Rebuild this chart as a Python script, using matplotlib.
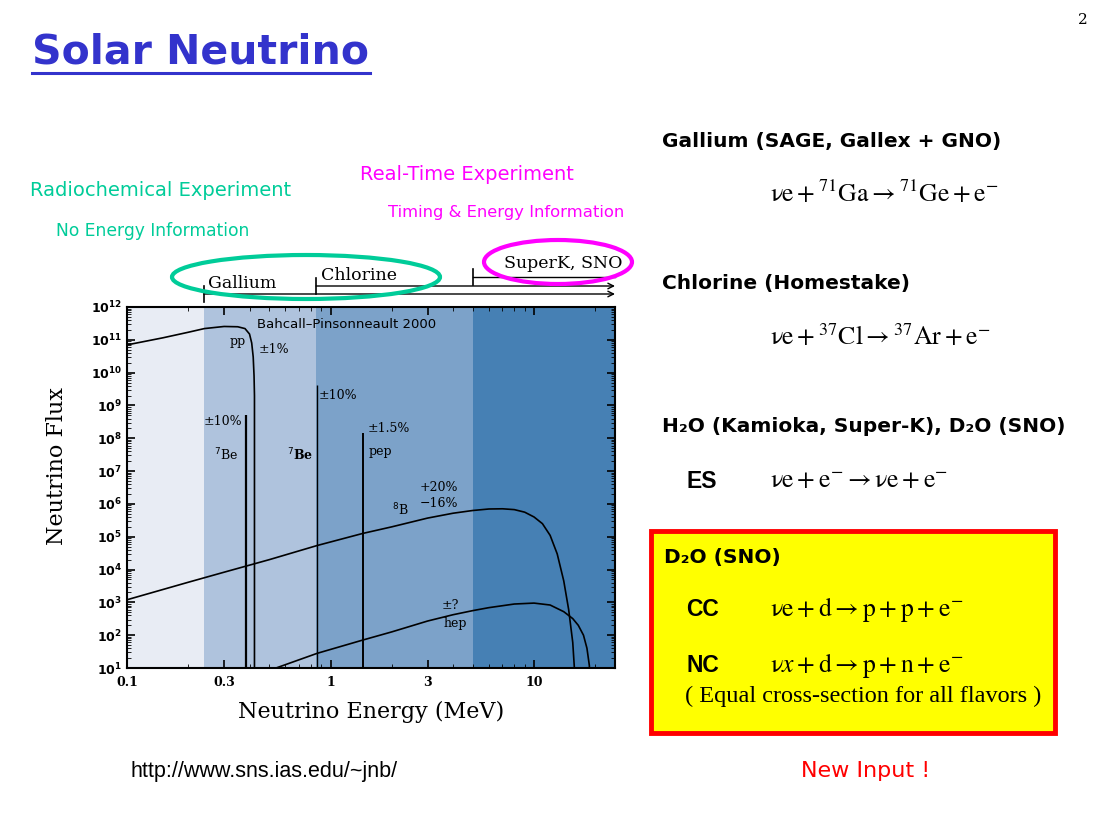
import matplotlib.pyplot as plt
import matplotlib.transforms as mtransforms
from matplotlib.patches import Ellipse, Rectangle
from matplotlib.ticker import LogLocator, NullFormatter

# energy bands (MeV) and detector thresholds
band_edges = [0.1, 0.238, 0.85, 5.0, 25.0]
band_colors = ["#e8ecf4", "#afc3dd", "#7ca2c9", "#4680b4"]
thr_E = [0.238, 0.85, 5.0]
thr_names = ["Gallium", "Chlorine", "SuperK, SNO"]

# pp continuum
pp_E = [0.1, 0.15, 0.2, 0.24, 0.3, 0.35, 0.38, 0.40, 0.41, 0.417, 0.421, 0.423, 0.423]
pp_flux = [7e10, 1.15e11, 1.7e11, 2.2e11, 2.55e11, 2.5e11, 2.2e11, 1.5e11, 8e10, 3e10, 8e9, 2e9, 5]

# line sources: 7Be (2), pep
line_E = [0.384, 0.862, 1.442]
line_flux = [5e8, 4.3e9, 1.4e8]

# 8B continuum
b8_E = [0.1, 0.2, 0.3, 0.5, 0.86, 1.44, 2, 3, 4, 5, 6, 7, 8, 9, 10, 11, 12, 13, 14, 14.8, 15.5, 15.9]
b8_flux = [1.2e3, 4.1e3, 8.3e3, 2.0e4, 5.4e4, 1.26e5, 2.0e5, 3.7e5, 5.2e5, 6.3e5, 7.0e5,
           7.1e5, 6.7e5, 5.6e5, 4.0e5, 2.5e5, 1.1e5, 3.0e4, 4.5e3, 6e2, 6e1, 5]

# hep continuum
hep_E = [0.54, 0.86, 1.44, 2, 3, 4, 5, 6, 8, 10, 12, 14, 15.5, 16.5, 17.5, 18.2, 18.7, 18.8]
hep_flux = [10, 28, 71, 126, 270, 420, 560, 690, 890, 950, 830, 520, 320, 200, 100, 40, 12, 5]

W, H = 1100, 825
fig = plt.figure(figsize=(11, 8.25), dpi=100)


def fx(x):
    return x / W


def fy(y):
    return 1 - y / H


serif = "DejaVu Serif"
green = "#00cc99"
magenta = "#ff00ff"

ax = fig.add_axes([fx(127), fy(668), fx(615) - fx(127), fy(307) - fy(668)])
for i in range(len(band_colors)):
    ax.axvspan(band_edges[i], band_edges[i + 1], color=band_colors[i], lw=0, zorder=0)

ax.plot(pp_E, pp_flux, color="black", lw=1.2)
ax.plot(b8_E, b8_flux, color="black", lw=1.2)
ax.plot(hep_E, hep_flux, color="black", lw=1.2)
ax.vlines(line_E, 1, line_flux, color="black", lw=[1.6, 1.0, 1.4])

ax.set_xscale("log")
ax.set_yscale("log")
ax.set_xlim(0.1, 25)
ax.set_ylim(10, 1e12)
ax.set_xticks([0.1, 0.3, 1, 3, 10])
ax.set_xticklabels(["0.1", "0.3", "1", "3", "10"], family=serif, fontsize=9, fontweight="bold")
yt = [10 ** n for n in range(1, 13)]
ax.set_yticks(yt)
ax.set_yticklabels([r"$\mathbf{10^{%d}}$" % n for n in range(1, 13)], fontsize=9)
ax.yaxis.set_minor_locator(LogLocator(base=10, subs=range(2, 10), numticks=100))
ax.yaxis.set_minor_formatter(NullFormatter())
ax.xaxis.set_minor_locator(LogLocator(base=10, subs=range(2, 10), numticks=100))
ax.xaxis.set_minor_formatter(NullFormatter())
ax.tick_params(which="both", direction="in", top=True, right=True)
ax.tick_params(which="major", length=6, width=1.2)
ax.tick_params(which="minor", length=3)
ax.tick_params(axis="x", pad=6)
for s in ax.spines.values():
    s.set_linewidth(1.5)
ax.set_xlabel("Neutrino Energy (MeV)", family=serif, fontsize=16, labelpad=8)
ax.set_ylabel("Neutrino Flux", family=serif, fontsize=16)
ax.yaxis.set_label_coords(-0.12, 0.56)

# labels inside plot
lab = dict(family=serif, fontsize=9, ha="center", va="center")
ax.text(1.2, 3e11, "Bahcall\u2013Pinsonneault 2000", family="DejaVu Sans", fontsize=9.5, ha="center", va="center")
ax.text(0.35, 9e10, "pp", **lab)
ax.text(0.53, 5e10, "\u00b11%", **lab)
ax.text(0.295, 3.2e8, "\u00b110%", **lab)
ax.text(0.305, 3.2e7, r"$^7$Be", **lab)
ax.text(0.71, 3.2e7, r"$^7$Be", fontweight="bold", family=serif, fontsize=9, ha="center", va="center")
ax.text(1.09, 2e9, "\u00b110%", **lab)
ax.text(1.94, 2e8, "\u00b11.5%", **lab)
ax.text(1.76, 4e7, "pep", **lab)
ax.text(3.4, 3.2e6, "+20%", **lab)
ax.text(3.4, 1.0e6, "\u221216%", **lab)
ax.text(2.2, 6.3e5, r"$^8$B", **lab)
ax.text(3.9, 8e2, "\u00b1?", **lab)
ax.text(4.1, 2.2e2, "hep", **lab)

# detector thresholds above the plot
blend = mtransforms.blended_transform_factory(ax.transData, fig.transFigure)
thr_y = [294, 286, 277]
lab_y = [284, 276, 264]
lab_shift = [1.046, 1.058, 1.43]
for E, name, yy, ly, sh in zip(thr_E, thr_names, thr_y, lab_y, lab_shift):
    if name == "SuperK, SNO":
        ax.plot([E, 25], [fy(yy), fy(yy)], color="black", lw=1, transform=blend, clip_on=False)
    else:
        ax.annotate("", xy=(25, fy(yy)), xytext=(E, fy(yy)), xycoords=blend,
                    arrowprops=dict(arrowstyle="->", lw=1, color="black", shrinkA=0, shrinkB=0))
    ax.plot([E, E], [fy(yy - 8), fy(yy + 8)], color="black", lw=1.2, transform=blend, clip_on=False)
    ax.text(E * sh, fy(ly), name, transform=blend, family=serif, fontsize=12.5, ha="left", va="center")

fig.add_artist(Ellipse((fx(306), fy(277)), fx(268), 44 / H, transform=fig.transFigure,
                       fill=False, edgecolor=green, lw=3))
fig.add_artist(Ellipse((fx(558), fy(262)), fx(148), 44 / H, transform=fig.transFigure,
                       fill=False, edgecolor=magenta, lw=3))

# title
fig.text(fx(32), fy(52), "Solar Neutrino", color="#3333cc", fontsize=29.5, fontweight="bold",
         ha="left", va="center")
fig.add_artist(plt.Line2D([fx(32), fx(370)], [fy(73), fy(73)], color="#3333cc", lw=2.2))
fig.text(fx(1088), fy(20), "2", family=serif, fontsize=11, ha="right", va="center")

# experiment descriptions
fig.text(fx(30), fy(191), "Radiochemical Experiment", color=green, fontsize=14, ha="left", va="center")
fig.text(fx(56), fy(231), "No Energy Information", color=green, fontsize=12.3, ha="left", va="center")
fig.text(fx(360), fy(174), "Real-Time Experiment", color=magenta, fontsize=14, ha="left", va="center")
fig.text(fx(388), fy(213), "Timing & Energy Information", color=magenta, fontsize=11.8, ha="left", va="center")

# right column
head = dict(fontsize=14.5, fontweight="bold", ha="left", va="center")
eq = dict(fontsize=18.5, ha="left", va="center", math_fontfamily="stix")
fig.text(fx(662), fy(141), "Gallium (SAGE, Gallex + GNO)", **head)
fig.text(fx(770), fy(194), r"$\mathrm{\nu e} + {}^{71}\mathrm{Ga} \rightarrow {}^{71}\mathrm{Ge} + \mathrm{e}^{-}$", **eq)
fig.text(fx(662), fy(284), "Chlorine (Homestake)", **head)
fig.text(fx(770), fy(338), r"$\mathrm{\nu e} + {}^{37}\mathrm{Cl} \rightarrow {}^{37}\mathrm{Ar} + \mathrm{e}^{-}$", **eq)
fig.text(fx(662), fy(427), "H\u2082O (Kamioka, Super-K), D\u2082O (SNO)", **head)
fig.text(fx(686), fy(481), "ES", family="Liberation Sans", fontweight="bold", fontsize=16.5, ha="left", va="center")
fig.text(fx(770), fy(481), r"$\mathrm{\nu e} + \mathrm{e}^{-} \rightarrow \mathrm{\nu e} + \mathrm{e}^{-}$", **eq)

fig.add_artist(Rectangle((fx(651), fy(733)), fx(1055) - fx(651), fy(531) - fy(733),
                         transform=fig.transFigure, facecolor="#ffff00", edgecolor="#ff0000", lw=3.5, zorder=1))
fig.text(fx(664), fy(557), "D\u2082O (SNO)", zorder=3, **head)
fig.text(fx(686), fy(610), "CC", family="Liberation Sans", fontweight="bold", fontsize=16.5, ha="left", va="center")
fig.text(fx(770), fy(610), r"$\mathrm{\nu e} + \mathrm{d} \rightarrow \mathrm{p} + \mathrm{p} + \mathrm{e}^{-}$", **eq)
fig.text(fx(686), fy(665), "NC", family="Liberation Sans", fontweight="bold", fontsize=16.5, ha="left", va="center")
fig.text(fx(770), fy(665), r"$\mathrm{\nu}x + \mathrm{d} \rightarrow \mathrm{p} + \mathrm{n} + \mathrm{e}^{-}$", **eq)
fig.text(fx(685), fy(696), "( Equal cross-section for all flavors )", family="Liberation Serif",
         fontsize=17.5, ha="left", va="center")

fig.text(fx(866), fy(771), "New Input !", color="#ff0000", fontsize=16, ha="center", va="center")
fig.text(fx(131), fy(771), "http://www.sns.ias.edu/~jnb/", family="Liberation Sans", fontsize=15.5,
         ha="left", va="center")

fig.savefig("out.png", dpi=100)
